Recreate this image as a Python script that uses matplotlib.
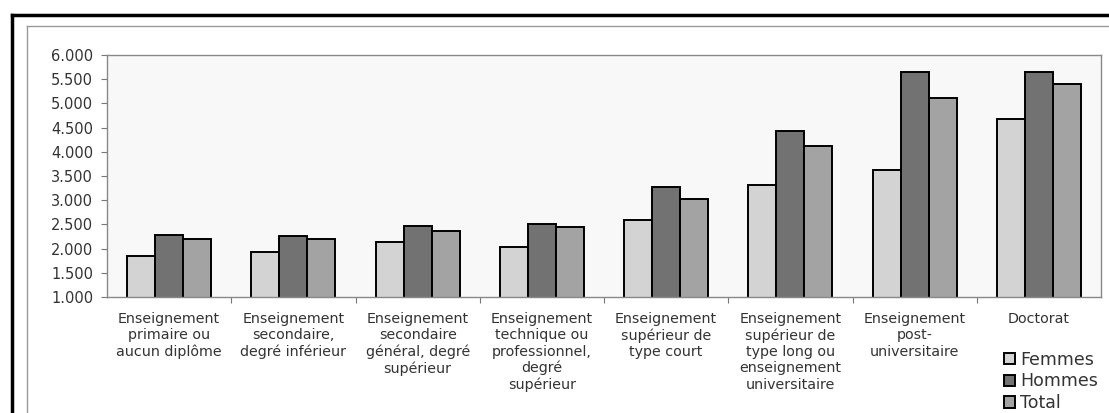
import matplotlib
matplotlib.use('Agg')
import matplotlib.pyplot as plt
import numpy as np
from matplotlib.lines import Line2D

categories = ['Enseignement\nprimaire ou\naucun diplôme',
              'Enseignement\nsecondaire,\ndegré inférieur',
              'Enseignement\nsecondaire\ngénéral, degré\nsupérieur',
              'Enseignement\ntechnique ou\nprofessionnel,\ndegré\nsupérieur',
              'Enseignement\nsupérieur de\ntype court',
              'Enseignement\nsupérieur de\ntype long ou\nenseignement\nuniversitaire',
              'Enseignement\npost-\nuniversitaire',
              'Doctorat']
femmes = [1850, 1930, 2135, 2025, 2590, 3315, 3630, 4680]
hommes = [2280, 2265, 2465, 2515, 3265, 4435, 5655, 5645]
total = [2200, 2205, 2365, 2440, 3020, 4125, 5120, 5400]
yticks = [1000, 1500, 2000, 2500, 3000, 3500, 4000, 4500, 5000, 5500, 6000]
ytick_labels = ['1.000', '1.500', '2.000', '2.500', '3.000', '3.500',
                '4.000', '4.500', '5.000', '5.500', '6.000']

plt.rc('font', family=['DejaVu Sans'])

W, H = 1109, 413
fig = plt.figure(figsize=(W/100, H/100), dpi=100)
fig.patch.set_facecolor('white')

# outer frame (black) and inner frame (gray), cropped on right/bottom
fig.add_artist(Line2D([12/W, 1], [1-15/H, 1-15/H], color='black', lw=2.5))
fig.add_artist(Line2D([12/W, 12/W], [0, 1-15/H], color='black', lw=2.5))
fig.add_artist(Line2D([27/W, 1], [1-26/H, 1-26/H], color='#999999', lw=1))
fig.add_artist(Line2D([27/W, 27/W], [0, 1-26/H], color='#999999', lw=1))

ax = fig.add_axes([107/W, 1-297/H, (1101-107)/W, (297-55)/H])
ax.set_facecolor('#f8f8f8')

x = np.arange(len(categories))
w = 0.226
ax.bar(x - w, femmes, w, color='#d3d3d3', edgecolor='black', lw=1.4, label='Femmes')
ax.bar(x, hommes, w, color='#727272', edgecolor='black', lw=1.4, label='Hommes')
ax.bar(x + w, total, w, color='#a3a3a3', edgecolor='black', lw=1.4, label='Total')

ax.set_ylim(1000, 6000)
ax.set_xlim(-0.5, len(categories) - 0.5)
ax.set_yticks(yticks)
ax.set_yticklabels(ytick_labels, fontsize=10.5, color='#333333')
ax.tick_params(axis='y', length=4, width=0.8, color='#777777', pad=6)

ax.set_xticks(x)
ax.set_xticklabels(categories, fontsize=10.3, color='#333333', linespacing=1.2, va='top')
ax.tick_params(axis='x', which='major', length=0, pad=11)
ax.set_xticks(x[:-1] + 0.5, minor=True)
ax.tick_params(axis='x', which='minor', length=4, width=0.8, color='#777777')

for s in ax.spines.values():
    s.set_color('#888888')
    s.set_linewidth(1)

# legend sits low at the right, squeezed slightly so "Total" stays inside
fig.legend(loc='upper left', bbox_to_anchor=(995/W, 1-342/H), frameon=False,
           fontsize=12.5, handlelength=0.65, handleheight=0.65, handletextpad=0.3,
           labelspacing=0.22, borderpad=0, labelcolor='#333333')

plt.savefig('out.png', dpi=100)
